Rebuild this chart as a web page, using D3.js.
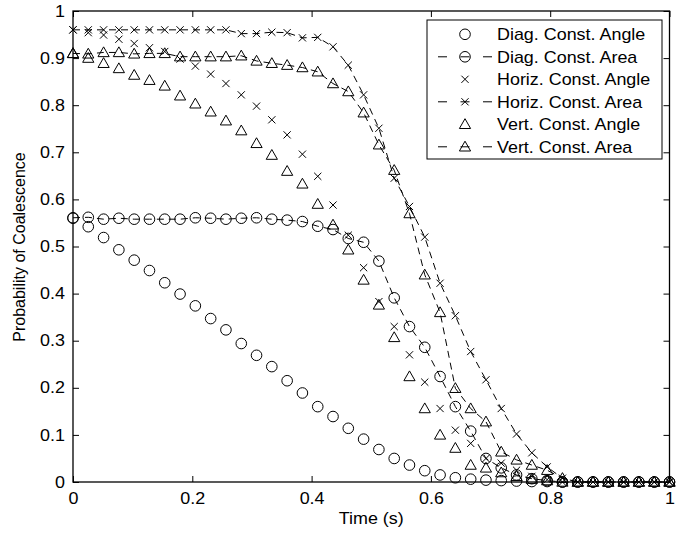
<!DOCTYPE html>
<html>
<head>
<meta charset="utf-8">
<script src="https://cdn.jsdelivr.net/npm/d3@7"></script>
<style>
body { margin: 0; background: #fff; }
svg { display: block; font-family: "Liberation Sans", Arial, sans-serif; }
</style>
</head>
<body>
<svg id="chart" width="690" height="534"></svg>
<script>
// sample times (s)
const time = [0, 0.0256, 0.0513, 0.0769, 0.1026, 0.1282, 0.1538, 0.1795, 0.2051, 0.2308,
	0.2564, 0.2821, 0.3077, 0.3333, 0.359, 0.3846, 0.4103, 0.4359, 0.4615, 0.4872,
	0.5128, 0.5385, 0.5641, 0.5897, 0.6154, 0.641, 0.6667, 0.6923, 0.7179, 0.7436,
	0.7692, 0.7949, 0.8205, 0.8462, 0.8718, 0.8974, 0.9231, 0.9487, 0.9744, 1];

const diagAngle = [0.56, 0.542, 0.519, 0.493, 0.471, 0.449, 0.423, 0.399, 0.374, 0.347,
	0.323, 0.294, 0.269, 0.245, 0.215, 0.189, 0.16, 0.139, 0.114, 0.091,
	0.069, 0.05, 0.036, 0.024, 0.015, 0.009, 0.006, 0.004, 0.003, 0.002,
	0.001, 0.001, 0, 0, 0, 0, 0, 0, 0, 0];
const diagArea = [0.561, 0.562, 0.558, 0.56, 0.558, 0.558, 0.558, 0.558, 0.561, 0.56,
	0.558, 0.56, 0.561, 0.558, 0.556, 0.553, 0.543, 0.536, 0.517, 0.509,
	0.469, 0.391, 0.33, 0.286, 0.224, 0.16, 0.108, 0.05, 0.03, 0.015,
	0.007, 0.003, 0, 0, 0, 0, 0, 0, 0, 0];
const horizAngle = [0.96, 0.954, 0.949, 0.94, 0.931, 0.922, 0.914, 0.898, 0.883, 0.866,
	0.846, 0.822, 0.798, 0.769, 0.737, 0.696, 0.649, 0.588, 0.524, 0.455,
	0.383, 0.33, 0.27, 0.212, 0.156, 0.11, 0.082, 0.05, 0.04, 0.025,
	0.012, 0.005, 0, 0, 0, 0, 0, 0, 0, 0];
const horizArea = [0.96, 0.96, 0.96, 0.96, 0.96, 0.96, 0.96, 0.96, 0.96, 0.96,
	0.96, 0.952, 0.952, 0.955, 0.954, 0.943, 0.944, 0.924, 0.885, 0.822,
	0.751, 0.645, 0.585, 0.52, 0.422, 0.353, 0.277, 0.217, 0.156, 0.102,
	0.062, 0.032, 0.008, 0, 0, 0, 0, 0, 0, 0];
const vertAngle = [0.91, 0.9, 0.889, 0.878, 0.864, 0.853, 0.841, 0.82, 0.803, 0.786,
	0.767, 0.746, 0.719, 0.694, 0.66, 0.633, 0.59, 0.546, 0.493, 0.429,
	0.376, 0.307, 0.224, 0.156, 0.1, 0.072, 0.036, 0.03, 0.02, 0.012,
	0.006, 0.003, 0, 0, 0, 0, 0, 0, 0, 0];
const vertArea = [0.91, 0.909, 0.912, 0.912, 0.909, 0.91, 0.91, 0.903, 0.903, 0.903,
	0.903, 0.905, 0.894, 0.889, 0.885, 0.88, 0.871, 0.846, 0.829, 0.784,
	0.716, 0.662, 0.57, 0.44, 0.36, 0.199, 0.156, 0.128, 0.064, 0.047,
	0.036, 0.025, 0.008, 0, 0, 0, 0, 0, 0, 0];

const seriesNames = ['Diag. Const. Angle', 'Diag. Const. Area', 'Horiz. Const. Angle',
	'Horiz. Const. Area', 'Vert. Const. Angle', 'Vert. Const. Area'];

const xTicks = [0, 0.2, 0.4, 0.6, 0.8, 1];
const yTicks = [0, 0.1, 0.2, 0.3, 0.4, 0.5, 0.6, 0.7, 0.8, 0.9, 1];

const series = [
	{ name: seriesNames[0], values: diagAngle, marker: 'circle', dashed: false },
	{ name: seriesNames[1], values: diagArea, marker: 'circle', dashed: true },
	{ name: seriesNames[2], values: horizAngle, marker: 'times', dashed: false },
	{ name: seriesNames[3], values: horizArea, marker: 'times', dashed: true },
	{ name: seriesNames[4], values: vertAngle, marker: 'triangle', dashed: false },
	{ name: seriesNames[5], values: vertArea, marker: 'triangle', dashed: true }
];

const stretch = 'scale(1.12,1)'; // text in the picture is a bit wide
const margin = { left: 73, right: 669.5, top: 11, bottom: 482 };

const svg = d3.select('#chart');
const x = d3.scaleLinear().domain([0, 1]).range([margin.left, margin.right]);
const y = d3.scaleLinear().domain([0, 1]).range([margin.bottom, margin.top]);

function markerPath(type) {
	if (type === 'circle') return d3.symbol(d3.symbolCircle, Math.PI * 5.3 * 5.3)();
	if (type === 'times') return 'M-3.6,-3.6L3.6,3.6M-3.6,3.6L3.6,-3.6';
	return 'M0,-5.6L5.6,4.2L-5.6,4.2Z';
}

// axes, ticks pointing inward on all four sides
const fmt = d => String(d);
const xAxis = svg.append('g')
	.attr('transform', `translate(0,${margin.bottom})`)
	.call(d3.axisBottom(x).tickValues(xTicks).tickFormat(fmt).tickSize(-6).tickPadding(10.5));
const yAxis = svg.append('g')
	.attr('transform', `translate(${margin.left},0)`)
	.call(d3.axisLeft(y).tickValues(yTicks).tickFormat(fmt).tickSize(-6).tickPadding(7.2));
svg.append('g')
	.attr('transform', `translate(0,${margin.top})`)
	.call(d3.axisTop(x).tickValues(xTicks).tickFormat('').tickSize(-6));
svg.append('g')
	.attr('transform', `translate(${margin.right},0)`)
	.call(d3.axisRight(y).tickValues(yTicks).tickFormat('').tickSize(-6));

svg.selectAll('.domain').remove();
svg.selectAll('.tick line').attr('stroke', '#000').attr('stroke-width', 1);
svg.selectAll('.tick text')
	.attr('fill', '#000')
	.attr('font-size', 16)
	.attr('font-family', '"Liberation Sans", Arial, sans-serif')
	.attr('transform', stretch);

svg.append('rect')
	.attr('x', margin.left).attr('y', margin.top)
	.attr('width', margin.right - margin.left).attr('height', margin.bottom - margin.top)
	.attr('fill', 'none').attr('stroke', '#000').attr('stroke-width', 1.3);

// data
const line = d3.line().x((d, i) => x(time[i])).y(d => y(d));
const plot = svg.append('g');
for (const s of series) {
	const g = plot.append('g');
	if (s.dashed) {
		g.append('path')
			.attr('d', line(s.values))
			.attr('fill', 'none')
			.attr('stroke', '#000')
			.attr('stroke-width', 1)
			.attr('stroke-dasharray', '7,5');
	}
	g.selectAll('path.mk')
		.data(s.values)
		.enter()
		.append('path')
		.attr('class', 'mk')
		.attr('d', markerPath(s.marker))
		.attr('transform', (d, i) => `translate(${x(time[i])},${y(d)})`)
		.attr('fill', 'none')
		.attr('stroke', '#000')
		.attr('stroke-width', 1);
}

// axis labels
svg.append('text')
	.attr('transform', `translate(${(margin.left + margin.right) / 2},524) ${stretch}`)
	.attr('text-anchor', 'middle')
	.attr('font-size', 16)
	.text('Time (s)');
svg.append('text')
	.attr('transform', 'translate(25,247) rotate(-90)')
	.attr('text-anchor', 'middle')
	.attr('font-size', 16)
	.text('Probability of Coalescence');

// legend
const legend = svg.append('g');
legend.append('rect')
	.attr('x', 427).attr('y', 20)
	.attr('width', 235).attr('height', 139)
	.attr('fill', '#fff').attr('stroke', '#000').attr('stroke-width', 1);
series.forEach((s, k) => {
	const ly = 34.3 + k * 22.5;
	if (s.dashed) {
		legend.append('line')
			.attr('x1', 438).attr('x2', 492)
			.attr('y1', ly).attr('y2', ly)
			.attr('stroke', '#000').attr('stroke-width', 1)
			.attr('stroke-dasharray', '9,13.5');
	}
	legend.append('path')
		.attr('d', markerPath(s.marker))
		.attr('transform', `translate(465,${ly})`)
		.attr('fill', 'none').attr('stroke', '#000').attr('stroke-width', 1);
	legend.append('text')
		.attr('transform', `translate(497,${ly}) ${stretch}`)
		.attr('dy', '0.36em')
		.attr('font-size', 16)
		.text(s.name);
});
</script>
</body>
</html>
